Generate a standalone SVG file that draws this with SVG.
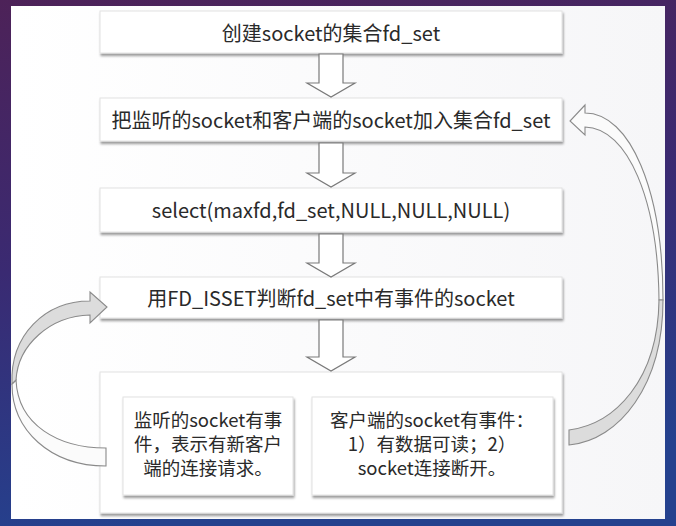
<svg xmlns="http://www.w3.org/2000/svg" width="676" height="526" viewBox="0 0 676 526">
<defs>
<linearGradient id="bg" x1="0" y1="0" x2="0.2" y2="1">
<stop offset="0" stop-color="#4d2258"/>
<stop offset="0.5" stop-color="#3a2a72"/>
<stop offset="1" stop-color="#24418e"/>
</linearGradient>
<linearGradient id="paper" x1="0" y1="0" x2="1" y2="0">
<stop offset="0" stop-color="#ffffff"/>
<stop offset="1" stop-color="#f6f6f8"/>
</linearGradient>
<filter id="sh" x="-5%" y="-20%" width="110%" height="150%">
<feDropShadow dx="1" dy="2.5" stdDeviation="1.3" flood-color="#000" flood-opacity="0.4"/>
</filter>
</defs>
<style>
.box{fill:#fff;stroke:#e2e2e2;stroke-width:1;filter:url(#sh)}
.t{font-family:"Noto Sans CJK SC","Microsoft YaHei",sans-serif;font-size:20px;fill:#2a2a2a;text-anchor:middle;dominant-baseline:central}
.s{font-size:18.5px}
.down{fill:#fff;stroke:#7a7a7a;stroke-width:1.2}
.cg{fill:#dcdcdc;stroke:#8a8a8a;stroke-width:1.1}
.cw{fill:#fbfbfb;stroke:#8a8a8a;stroke-width:1.1}
</style>
<rect x="0" y="0" width="676" height="526" fill="url(#bg)"/>
<rect x="11" y="6" width="654" height="513" fill="url(#paper)"/>

<g id="n1"><rect class="box" x="100" y="11" width="462" height="42"/><text class="t" x="331" y="32">创建socket的集合fd_set</text></g>
<g id="n2"><rect class="box" x="100" y="98" width="462" height="43"/><text class="t" x="331" y="119">把监听的socket和客户端的socket加入集合fd_set</text></g>
<g id="n3"><rect class="box" x="100" y="188" width="462" height="44"/><text class="t" x="331" y="209">select(maxfd,fd_set,NULL,NULL,NULL)</text></g>
<g id="n4"><rect class="box" x="100" y="277" width="462" height="41"/><text class="t" x="331" y="297">用FD_ISSET判断fd_set中有事件的socket</text></g>
<g id="n5">
<rect class="box" x="100" y="372" width="462" height="141"/>
<g id="n5a"><rect class="box" x="123" y="397" width="170" height="98"/>
<text class="t s" x="208" y="419">监听的socket有事</text>
<text class="t s" x="208" y="443">件，表示有新客户</text>
<text class="t s" x="208" y="467">端的连接请求。</text></g>
<g id="n5b"><rect class="box" x="312" y="397" width="241" height="98"/>
<text class="t s" x="432" y="419">客户端的socket有事件：</text>
<text class="t s" x="432" y="443">1）有数据可读；2）</text>
<text class="t s" x="432" y="467">socket连接断开。</text></g>
</g>

<g id="connectors">
<path class="down" d="M319,54 H343 V83 H355 L331,97 L307,83 H319 Z"/>
<path class="down" d="M319,143 H343 V173 H355 L331,187 L307,173 H319 Z"/>
<path class="down" d="M319,234 H343 V263 H355 L331,277 L307,263 H319 Z"/>
<path class="down" d="M319,320 H343 V357 H355 L331,371 L307,357 H319 Z"/>
<path class="cw" d="M12,384 C12,430 50,466 106,466 V448 C58,448 18,425 16,380 Z"/>
<path class="cg" d="M12,384 C10,335 45,301 90,301 V292 L107,307 L90,323 V315 C50,316 18,345 16,380 Z"/>
<path class="cw" d="M663,300 C663,190 630,113 585,113 V105 L570,121 L585,135 V127 C628,128 658,200 659,300 Z"/>
<path class="cg" d="M663,300 C663,385 620,440 569,445 V430 C615,424 658,380 659,300 Z"/>
</g>
</svg>
